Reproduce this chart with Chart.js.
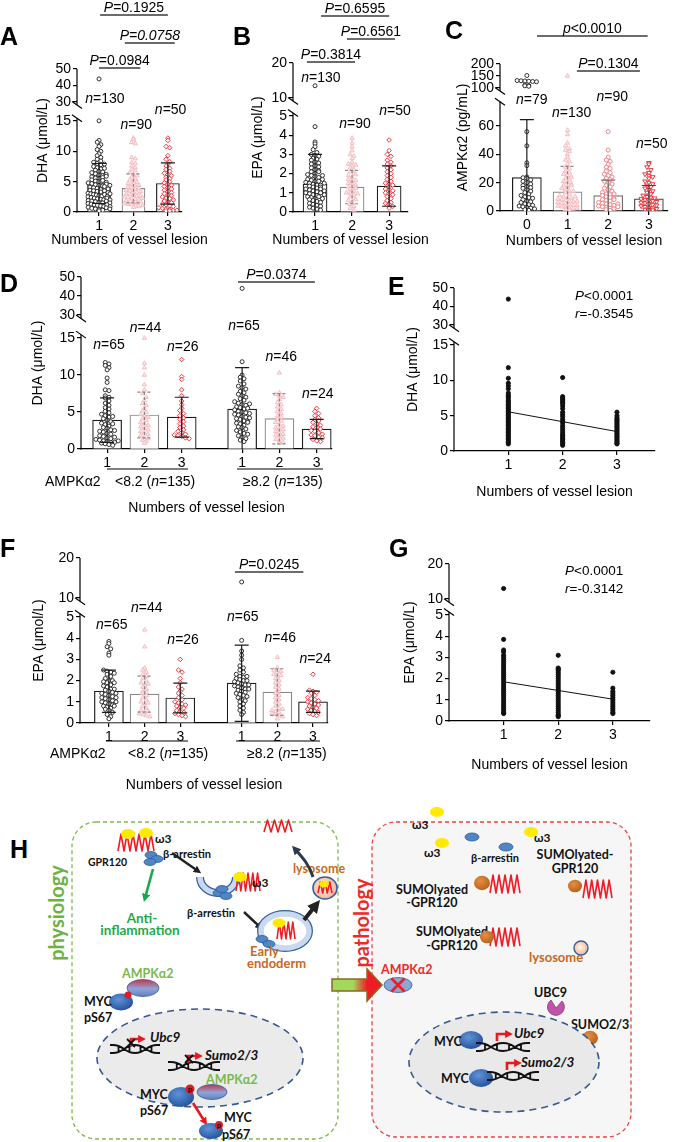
<!DOCTYPE html>
<html>
<head>
<meta charset="utf-8">
<title>DHA, EPA and AMPKα2 by numbers of vessel lesion</title>
<script src="https://cdn.jsdelivr.net/npm/chart.js@4.4.1/dist/chart.umd.min.js"></script>
<style>
  html, body { margin: 0; background: #fff; }
  #page { position: relative; width: 674px; height: 1142px; overflow: hidden; background: #fff; }
  #page canvas, #page svg { position: absolute; }
</style>
</head>
<body>
<div id="page">
  <svg id="diagram" width="674" height="1142" style="left:0;top:0" font-family="Lato, 'Open Sans', sans-serif" font-weight="bold"></svg>
  <canvas id="cA"></canvas>
  <canvas id="cB"></canvas>
  <canvas id="cC"></canvas>
  <canvas id="cD"></canvas>
  <canvas id="cE"></canvas>
  <canvas id="cF"></canvas>
  <canvas id="cG"></canvas>
</div>
<script>
const FONT = '"Liberation Sans", Arial, Helvetica, sans-serif';

// ---------- categories and ticks ----------
const lesionCats = ['1', '2', '3'];
const lesionCatsC = ['0', '1', '2', '3'];
const ampkCats = ['1', '2', '3', '1', '2', '3'];
const yTicksDha = [0, 5, 10, 15, 30, 40, 50];
const yTicksEpa = [0, 1, 2, 3, 4, 5, 10, 20];
const yTicksAmpk = [0, 20, 40, 60, 100, 150, 200];

// ---------- A: DHA by lesion number ----------
const dhaA1 = [44.0, 15.2, 11.8, 11.5, 11.1, 10.8, 10.3, 10.0, 9.6, 9.3, 9.0, 8.7, 8.4, 8.2, 8.0, 7.8, 7.5, 7.3, 7.1, 6.9,
  6.7, 6.5, 6.3, 6.1, 6.0, 5.8, 5.6, 5.5, 5.3, 5.1, 5.0, 4.8, 4.7, 4.5, 4.4, 4.3, 4.1, 4.0, 3.9, 3.7, 3.6, 3.5, 3.4, 3.3,
  3.1, 3.0, 2.9, 2.8, 2.7, 2.6, 2.5, 2.4, 2.3, 2.2, 2.1, 2.0, 1.9, 1.8, 1.7, 1.6, 1.5, 1.4, 1.3, 1.2, 1.1, 1.0, 0.9, 0.8,
  0.6, 0.5, 0.4, 0.3, 0.2, 7.9, 7.2, 6.6, 6.2, 5.7, 5.2, 4.9, 4.6, 4.2, 3.8, 3.5, 3.2, 2.9, 2.6, 2.3, 2.0, 1.8, 1.5, 1.2,
  0.9, 0.7, 0.5, 5.9, 4.4, 3.0];
const dhaA2 = [12.2, 12.0, 11.5, 11.3, 9.0, 8.8, 8.2, 8.0, 7.6, 7.3, 7.0, 6.8, 6.5, 6.2, 6.0, 5.8, 5.5, 5.3, 5.1, 4.9, 4.7,
  4.5, 4.3, 4.1, 4.0, 3.8, 3.6, 3.5, 3.3, 3.2, 3.0, 2.9, 2.8, 2.6, 2.5, 2.4, 2.2, 2.1, 2.0, 1.9, 1.8, 1.6, 1.5, 1.4, 1.3,
  1.2, 1.0, 0.9, 0.8, 4.4, 3.9, 3.4, 2.7, 2.3, 1.7, 1.1];
const dhaA3 = [12.2, 11.8, 10.8, 10.6, 9.3, 8.7, 8.3, 7.9, 7.6, 7.2, 7.0, 6.7, 6.4, 6.2, 6.0, 5.7, 5.5, 5.3, 5.0, 4.8, 4.6,
  4.4, 4.2, 4.0, 3.8, 3.6, 3.4, 3.2, 3.0, 2.8, 2.7, 2.5, 2.3, 2.2, 2.0, 1.8, 1.6, 1.5, 1.3, 1.2, 1.0, 0.9, 0.7, 0.6, 0.5,
  0.4, 0.3, 0.3, 0.2, 0.2];
const dhaMeanA = [4.7, 3.9, 4.7];
const dhaSdA = [3.3, 2.4, 3.4];

// ---------- B: EPA by lesion number ----------
const epaB1 = [13.5, 4.45, 3.65, 3.55, 3.4, 3.25, 3.1, 3.0, 2.95, 2.9, 2.8, 2.75, 2.7, 2.6, 2.55, 2.5, 2.4, 2.35, 2.3, 2.2,
  2.15, 2.1, 2.0, 1.95, 1.9, 1.85, 1.8, 1.7, 1.65, 1.6, 1.55, 1.5, 1.45, 1.4, 1.35, 1.3, 1.25, 1.2, 1.15, 1.1, 1.05, 1.0,
  0.95, 0.9, 0.85, 0.8, 0.75, 0.7, 0.65, 0.6, 0.55, 0.5, 0.45, 0.4, 0.35, 0.3, 0.25, 0.2, 0.15, 0.1,
  1.3, 1.2, 1.1, 1.0, 0.9, 1.4, 1.5, 1.6, 1.7, 0.8, 0.7, 1.9, 2.1];
const epaB2 = [3.85, 3.6, 3.4, 3.2, 3.0, 2.9, 2.8, 2.6, 2.5, 2.4, 2.3, 2.2, 2.1, 2.0, 1.9, 1.8, 1.7, 1.6, 1.5, 1.5, 1.4,
  1.3, 1.3, 1.2, 1.1, 1.0, 1.0, 0.9, 0.8, 0.7, 0.6, 0.5, 0.4, 0.3, 0.2, 0.1, 2.45, 1.95, 1.65, 1.25, 0.95, 0.65];
const epaB3 = [3.75, 3.2, 3.0, 2.9, 2.7, 2.6, 2.5, 2.4, 2.3, 2.2, 2.1, 2.0, 1.9, 1.8, 1.7, 1.6, 1.5, 1.45, 1.4, 1.3, 1.2,
  1.15, 1.1, 1.0, 0.95, 0.9, 0.8, 0.7, 0.6, 0.5, 0.45, 0.4, 0.3, 0.2];
const epaMeanB = [1.45, 1.3, 1.35];
const epaSdB = [1.55, 0.87, 1.05];

// ---------- C: AMPKα2 by lesion number ----------
const ampkC0 = [152, 131, 130, 129, 128, 127, 126, 112, 110, 109, 107, 56, 46, 34, 32, 24, 23.5, 23, 22, 21, 20, 19, 18, 17,
  16.5, 16, 15, 14, 13, 12, 11, 10, 9.5, 9, 8, 7, 6.5, 6, 5, 4.5, 4, 3.5, 3, 2.5, 2, 1.5, 1, 0.5];
const ampkC1 = [150, 57, 54, 48, 46, 44, 43, 42, 40, 38, 36, 35, 33, 31, 30, 28, 27, 26, 25, 24, 23, 22, 21, 20, 19, 18, 17,
  16, 15, 14, 13, 12, 11, 10, 9.5, 9, 8.5, 8, 7.5, 7, 6.5, 6, 5.5, 5, 4.5, 4, 3.5, 3, 2.5, 2, 1.5, 1, 0.5, 18, 14, 10, 7, 4, 2];
const ampkC2 = [56, 43, 38, 36, 35, 33, 31, 30, 28, 27, 26, 25, 24, 23, 22, 21, 20, 19, 18, 17, 16, 15, 14, 13, 12, 11.5,
  11, 10, 9.5, 9, 8, 7.5, 7, 6, 5.5, 5, 4.5, 4, 3.5, 3, 2.5, 2, 1.5, 1, 0.5, 12, 8, 5, 3];
const ampkC3 = [34, 33, 31, 29, 27, 26, 25, 24, 23, 21, 20, 19, 18, 17, 16, 15, 14, 13, 12, 11, 10, 9.5, 9, 8.5, 8, 7.5, 7,
  6.5, 6, 5.5, 5, 4.5, 4, 3.5, 3, 2.5, 2, 1.5, 1, 0.8, 0.5];
const ampkMeanC = [23.5, 13.5, 10.8, 8.5];
const ampkSdC = [41, 18, 11, 9.5];

// ---------- D: DHA by AMPKα2 level and lesion number ----------
const dhaD1 = [11.7, 11.5, 11.3, 11.0, 10.7, 9.6, 9.0, 8.0, 7.9, 7.2, 7.0, 6.9, 6.5, 6.2, 5.9, 5.6, 5.4, 5.1, 4.9, 4.7, 4.5,
  4.3, 4.1, 3.9, 3.7, 3.5, 3.3, 3.1, 2.9, 2.8, 2.6, 2.4, 2.3, 2.1, 2.0, 1.8, 1.7, 1.5, 1.4, 1.3, 1.2, 1.1, 1.0, 0.9, 0.8,
  0.7, 0.6, 0.5, 0.9, 1.1, 1.6, 2.5, 3.4, 4.4];
const dhaD2 = [15.0, 11.6, 11.0, 10.0, 8.7, 8.0, 7.5, 7.0, 6.6, 6.2, 5.9, 5.5, 5.2, 5.0, 4.7, 4.5, 4.3, 4.1, 3.9, 3.6, 3.4,
  3.2, 3.0, 2.8, 2.6, 2.4, 2.2, 2.0, 1.8, 1.6, 1.4, 1.2, 1.0, 0.8];
const dhaD3 = [12.1, 9.8, 9.4, 8.0, 7.2, 6.5, 6.0, 5.5, 5.2, 4.8, 4.5, 4.2, 4.0, 3.7, 3.4, 3.1, 2.9, 2.6, 2.4, 2.2, 2.0, 1.9,
  1.8, 1.7, 1.5, 1.4];
const dhaD4 = [44.0, 11.8, 10.0, 9.7, 9.5, 9.2, 8.8, 8.5, 8.3, 8.1, 7.8, 7.6, 7.4, 7.2, 7.0, 6.8, 6.6, 6.4, 6.2, 6.0, 5.9,
  5.7, 5.6, 5.4, 5.3, 5.1, 5.0, 4.9, 4.7, 4.6, 4.4, 4.3, 4.1, 4.0, 3.8, 3.7, 3.5, 3.4, 3.2, 3.0, 2.9, 2.7, 2.5, 2.3, 2.1,
  2.0, 1.8, 1.6, 1.4, 1.2, 1.0, 5.5, 4.8, 4.2, 3.6, 6.1];
const dhaD5 = [10.3, 7.6, 7.4, 7.2, 7.0, 6.7, 6.3, 6.0, 5.7, 5.4, 5.1, 4.8, 4.5, 4.3, 4.0, 3.8, 3.6, 3.3, 3.1, 2.9, 2.7, 2.6,
  2.4, 2.2, 2.0, 1.9, 1.7, 1.5, 1.3, 1.1, 0.9, 0.8];
const dhaD6 = [5.5, 5.1, 4.8, 4.5, 4.2, 4.0, 3.8, 3.6, 3.4, 3.2, 3.0, 2.9, 2.7, 2.5, 2.4, 2.2, 2.0, 1.9, 1.8, 1.6, 1.5, 1.3,
  1.1, 1.0];
const dhaMeanD = [3.9, 4.6, 4.3, 5.4, 4.1, 2.7];
const dhaSdD = [3.0, 3.1, 2.7, 5.6, 3.4, 1.3];

// ---------- E: DHA correlation ----------
const dhaE1 = [44, 11.8, 10.3, 9.6, 9.2, 8.8, 8.2, 7.9, 7.7, 7.5, 7.2, 7.0, 6.8, 6.6, 6.4, 6.2, 6.0, 5.8, 5.6, 5.4, 5.2, 5.0,
  4.8, 4.6, 4.4, 4.2, 4.0, 3.8, 3.6, 3.4, 3.2, 3.0, 2.8, 2.6, 2.4, 2.2, 2.0, 1.8, 1.6, 1.4, 1.2, 1.0];
const dhaE2 = [10.4, 7.7, 7.5, 7.3, 7.1, 6.9, 6.7, 6.4, 6.0, 5.5, 5.2, 4.9, 4.5, 4.2, 4.0, 3.6, 3.3, 3.0, 2.7, 2.4, 2.2, 2.0,
  1.8, 1.6, 1.4, 1.2, 1.0, 0.8];
const dhaE3 = [5.5, 5.0, 4.7, 4.5, 4.3, 4.1, 3.9, 3.7, 3.5, 3.3, 3.1, 2.9, 2.7, 2.5, 2.3, 2.1, 1.9, 1.7, 1.5, 1.3, 1.1, 1.0];
const fitX = [1, 3];
const fitE = [5.55, 2.75];

// ---------- F: EPA by AMPKα2 level and lesion number ----------
const epaF1 = [3.85, 3.75, 3.6, 3.5, 3.3, 3.2, 2.5, 2.45, 2.4, 2.35, 2.3, 2.2, 2.1, 2.0, 1.95, 1.9, 1.8, 1.75, 1.7, 1.6,
  1.55, 1.5, 1.45, 1.4, 1.35, 1.3, 1.25, 1.2, 1.15, 1.1, 1.05, 1.0, 0.95, 0.9, 0.85, 0.8, 0.75, 0.7, 0.65, 0.6, 0.5, 0.4,
  0.3, 0.2, 1.6, 1.4, 1.2, 1.0, 0.8, 1.9, 2.0];
const epaF2 = [4.4, 3.6, 2.6, 2.5, 2.3, 2.2, 2.1, 2.0, 1.9, 1.8, 1.7, 1.6, 1.5, 1.4, 1.3, 1.2, 1.1, 1.0, 0.9, 0.8, 0.7, 0.6,
  0.5, 0.45, 0.4, 0.35, 0.3, 2.4, 1.85, 1.45, 0.95, 0.55];
const epaF3 = [3.0, 2.5, 2.4, 2.1, 1.9, 1.7, 1.6, 1.5, 1.4, 1.3, 1.2, 1.1, 1.0, 0.95, 0.9, 0.85, 0.8, 0.75, 0.7, 0.6, 0.55,
  0.5, 0.45, 0.4, 0.35, 0.3];
const epaF4 = [14.0, 3.9, 3.4, 3.2, 3.0, 2.7, 2.6, 2.5, 2.4, 2.3, 2.2, 2.15, 2.1, 2.05, 2.0, 1.95, 1.9, 1.85, 1.8, 1.75, 1.7,
  1.65, 1.6, 1.55, 1.5, 1.45, 1.4, 1.35, 1.3, 1.2, 1.1, 1.0, 0.9, 0.8, 0.7, 0.6, 0.5, 0.4, 2.2, 2.0, 1.8, 1.6, 1.25, 1.05];
const epaF5 = [3.1, 2.6, 2.5, 2.4, 2.3, 2.2, 2.1, 2.0, 1.9, 1.8, 1.7, 1.6, 1.5, 1.4, 1.3, 1.2, 1.1, 1.0, 0.9, 0.8, 0.7, 0.6,
  0.55, 0.5, 0.45, 0.4, 0.35, 0.3, 0.2, 2.45, 2.25, 0.65];
const epaF6 = [2.3, 1.55, 1.5, 1.45, 1.4, 1.3, 1.2, 1.15, 1.1, 1.05, 1.0, 0.95, 0.9, 0.85, 0.8, 0.75, 0.7, 0.65, 0.6, 0.55,
  0.5, 0.45, 0.4, 0.35];
const epaMeanF = [1.5, 1.36, 1.18, 1.88, 1.46, 1.0];
const epaSdF = [1.0, 0.85, 0.7, 1.8, 1.1, 0.5];

// ---------- G: EPA correlation ----------
const epaG1 = [13.0, 3.85, 3.35, 3.25, 3.1, 3.0, 2.9, 2.8, 2.7, 2.6, 2.5, 2.4, 2.3, 2.2, 2.1, 2.0, 1.9, 1.8, 1.7, 1.6, 1.5,
  1.4, 1.3, 1.2, 1.1, 1.0, 0.9, 0.8, 0.7, 0.6, 0.5, 0.4, 0.35];
const epaG2 = [3.1, 2.5, 2.45, 2.4, 2.3, 2.2, 2.1, 2.0, 1.9, 1.8, 1.7, 1.6, 1.5, 1.4, 1.3, 1.2, 1.1, 1.0, 0.9, 0.8, 0.7, 0.6,
  0.5, 0.4, 0.3, 0.25, 0.2];
const epaG3 = [2.3, 1.55, 1.4, 1.3, 1.2, 1.1, 1.0, 0.9, 0.8, 0.7, 0.6, 0.5, 0.4, 0.35];
const fitG = [1.85, 1.03];

// ---------- marker styles ----------
const MARK = {
  k: { style: 'circle', r: 2.0, rot: 0, line: '#1e1e1e', fill: '#ffffff', bar: '#1b1b1b', dash: false },
  p: { style: 'triangle', r: 2.5, rot: 0, line: '#f3b9be', fill: '#fde8ea', bar: '#8a8a8a', dash: true },
  r: { style: 'rectRot', r: 2.3, rot: 0, line: '#e8262d', fill: '#ffffff', bar: '#1b1b1b', dash: false },
  s: { style: 'circle', r: 2.0, rot: 0, line: '#ef7b80', fill: '#ffffff', bar: '#6e6e6e', dash: false },
  v: { style: 'triangle', r: 2.6, rot: 180, line: '#e8262d', fill: '#ffffff', bar: '#444444', dash: false },
  dot: { style: 'circle', r: 2.1, rot: 0, line: '#111111', fill: '#111111' }
};

Chart.defaults.font.family = FONT;
Chart.defaults.font.size = 14;
Chart.defaults.color = '#000';

// piecewise (broken) axis: each segment is [fromValue, toValue, fromDecimal, toDecimal]
const SEGS = {};
function segFrac(segs, v) {
  for (let i = 0; i < segs.length; i++) {
    const [a, b, lo, hi] = segs[i];
    if (v < a && i > 0) {
      const p = segs[i - 1];
      return p[3] + (lo - p[3]) * (v - p[1]) / (a - p[1]);
    }
    if (v <= b || i === segs.length - 1) return lo + (hi - lo) * (v - a) / (b - a);
  }
  return 0;
}

class BrokenScale extends Chart.LinearScale {
  static id = 'broken';
  getPixelForValue(v) {
    return this.getPixelForDecimal(segFrac(SEGS[this.chart.canvas.id], v));
  }
  getValueForPixel(px) {
    const d = this.getDecimalForPixel(px);
    const segs = SEGS[this.chart.canvas.id];
    for (const s of segs) if (d <= s[3]) return s[0] + (s[1] - s[0]) * (d - s[2]) / (s[3] - s[2]);
    return segs[segs.length - 1][1];
  }
}
Chart.register(BrokenScale);

// beeswarm layout: points that share a vertical bin are spread sideways
function swarm(values, cx, segs, step, half) {
  const bins = new Map();
  values.forEach(v => {
    const k = Math.round(segFrac(segs, v) / 0.024);
    if (!bins.has(k)) bins.set(k, []);
    bins.get(k).push(v);
  });
  const pts = [];
  bins.forEach(list => {
    const m = list.length;
    const d = m > 1 ? Math.min(step, 2 * half / (m - 1)) : 0;
    list.forEach((v, j) => pts.push({ x: cx + (j - (m - 1) / 2) * d, y: v }));
  });
  return pts;
}

// text with *italic* parts
function richText(ctx, str, x, y, align, size, baseline = 'alphabetic') {
  const parts = str.split('*');
  const fonts = parts.map((p, i) => (i % 2 ? 'italic ' : '') + size + 'px ' + FONT);
  let w = 0;
  parts.forEach((p, i) => { ctx.font = fonts[i]; w += ctx.measureText(p).width; });
  let cx = align === 'center' ? x - w / 2 : align === 'right' ? x - w : x;
  ctx.textAlign = 'left';
  ctx.textBaseline = baseline;
  ctx.fillStyle = '#000';
  parts.forEach((p, i) => { ctx.font = fonts[i]; ctx.fillText(p, cx, y); cx += ctx.measureText(p).width; });
}

function panelPlugin(p) {
  const X = v => v - p.left, Y = v => v - p.top;
  return {
    id: 'notes_' + p.id,
    afterDatasetsDraw(chart) {
      if (!p.means) return;
      const ctx = chart.ctx, ys = chart.scales.y, xs = chart.scales.x;
      p.means.forEach((m, i) => {
        const st = MARK[p.styles[i]];
        const cx = xs.getPixelForValue(p.xs[i]);
        const low = m - p.sds[i];
        const top = ys.getPixelForValue(m + p.sds[i]);
        const bot = ys.getPixelForValue(Math.max(low, 0));
        ctx.save();
        ctx.strokeStyle = st.bar;
        ctx.lineWidth = 1.2;
        ctx.setLineDash(st.dash ? [3, 2] : []);
        ctx.beginPath();
        ctx.moveTo(cx, top); ctx.lineTo(cx, bot);
        ctx.moveTo(cx - 7, top); ctx.lineTo(cx + 7, top);
        if (low > 0) { ctx.moveTo(cx - 7, bot); ctx.lineTo(cx + 7, bot); }
        ctx.stroke();
        ctx.restore();
      });
    },
    afterDraw(chart) {
      const ctx = chart.ctx, ys = chart.scales.y, xs = chart.scales.x;
      const area = chart.chartArea, x0 = area.left;
      ctx.save();
      // broken y axis line with slashes
      ctx.strokeStyle = '#000';
      ctx.lineWidth = 1.2;
      p.segs.forEach((s, i) => {
        const lo = i === 0 ? 0 : s[2] - 0.02;
        const hi = i === p.segs.length - 1 ? 1 : s[3] + 0.02;
        const y0 = ys.getPixelForDecimal(lo), y1 = ys.getPixelForDecimal(hi);
        ctx.beginPath(); ctx.moveTo(x0, y0 + (i === 0 ? 0.6 : 0)); ctx.lineTo(x0, y1); ctx.stroke();
        const slash = y => { ctx.beginPath(); ctx.moveTo(x0 - 5, y - 3.5); ctx.lineTo(x0 + 5, y + 3.5); ctx.stroke(); };
        if (i > 0) slash(y0);
        if (i < p.segs.length - 1) slash(y1);
      });
      // x title drawn here when the plot is narrower than the text
      if (p.xTitleY) richText(ctx, 'Numbers of vessel lesion', (area.left + area.right) / 2, Y(p.xTitleY), 'center', 14, 'middle');
      // panel letter
      ctx.fillStyle = '#000';
      ctx.font = 'bold 25px ' + FONT;
      ctx.textAlign = 'left';
      ctx.textBaseline = 'alphabetic';
      ctx.fillText(p.letter[0], X(p.letter[1]), Y(p.letter[2]));
      // significance brackets
      (p.brackets || []).forEach(([t, a, b, y]) => {
        const xa = xs.getPixelForValue(a), xb = xs.getPixelForValue(b);
        ctx.strokeStyle = '#3a3a3a';
        ctx.lineWidth = 1.3;
        ctx.beginPath(); ctx.moveTo(xa, Y(y)); ctx.lineTo(xb, Y(y)); ctx.stroke();
        richText(ctx, t, (xa + xb) / 2, Y(y) - 3, 'center', 14);
      });
      (p.nLabels || []).forEach(([t, x, y]) => richText(ctx, t, xs.getPixelForValue(x), Y(y), 'center', 14));
      (p.stats || []).forEach(([t, x, y]) => richText(ctx, t, X(x), Y(y), 'left', 13.5));
      (p.groupLines || []).forEach(([a, b, y]) => {
        ctx.strokeStyle = '#000';
        ctx.lineWidth = 1.2;
        ctx.beginPath(); ctx.moveTo(X(a), Y(y)); ctx.lineTo(X(b), Y(y)); ctx.stroke();
      });
      (p.groupTexts || []).forEach(([t, x, y]) => richText(ctx, t, X(x), Y(y), 'left', 14));
      ctx.restore();
    }
  };
}

function makePanel(p) {
  const canvas = document.getElementById(p.id);
  canvas.width = p.width;
  canvas.height = p.height;
  canvas.style.left = p.left + 'px';
  canvas.style.top = p.top + 'px';
  canvas.style.width = p.width + 'px';
  canvas.style.height = p.height + 'px';
  SEGS[p.id] = p.segs;

  const datasets = [];
  p.groups.forEach((vals, i) => {
    const m = MARK[p.styles[i]];
    datasets.push({
      type: 'scatter',
      data: swarm(vals, p.xs[i], p.segs, p.step, p.half),
      pointStyle: m.style, pointRadius: m.r, pointRotation: m.rot,
      pointBorderColor: m.line, pointBackgroundColor: m.fill, pointBorderWidth: 0.9,
      order: 1
    });
  });
  if (p.means) {
    datasets.push({
      type: 'bar',
      data: p.means.map((v, i) => ({ x: p.xs[i], y: v })),
      backgroundColor: '#ffffff',
      borderColor: p.styles.map(s => MARK[s].bar),
      borderWidth: 1.2,
      barThickness: p.barW,
      order: 2
    });
  }
  if (p.fit) {
    datasets.push({
      type: 'line',
      data: fitX.map((x, i) => ({ x: x, y: p.fit[i] })),
      borderColor: '#111', borderWidth: 1, pointRadius: 0,
      order: 0
    });
  }

  return new Chart(canvas, {
    type: 'scatter',
    data: { datasets: datasets },
    options: {
      responsive: false,
      animation: false,
      events: [],
      layout: { padding: p.pad },
      plugins: { legend: { display: false }, tooltip: { enabled: false } },
      scales: {
        x: {
          type: 'linear', min: p.xMin, max: p.xMax, offset: false,
          afterBuildTicks: s => { s.ticks = p.xs.map(v => ({ value: v })); },
          afterFit: s => { s.height = p.xH; },
          ticks: { callback: (v, i) => p.cats[i], autoSkip: false, maxRotation: 0, padding: 2 },
          grid: { display: true, offset: false, drawOnChartArea: false, drawTicks: true, tickLength: 4, color: '#000', lineWidth: 1.2 },
          border: { display: true, color: '#000', width: 1.2 },
          title: { display: !p.xTitleY, text: 'Numbers of vessel lesion', padding: 0, font: { size: 14 } }
        },
        y: {
          type: 'broken', min: 0, max: p.yTicks[p.yTicks.length - 1],
          afterBuildTicks: s => { s.ticks = p.yTicks.map(v => ({ value: v })); },
          afterFit: s => { s.width = p.yW; },
          ticks: { autoSkip: false, padding: 2 },
          grid: { display: true, drawOnChartArea: false, drawTicks: true, tickLength: 4, color: '#000', lineWidth: 1.2 },
          border: { display: false },
          title: { display: true, text: p.yTitle, padding: 0, font: { size: 14 } }
        }
      }
    },
    plugins: [panelPlugin(p)]
  });
}

const segDha = [[0, 15, 0, 0.636], [30, 50, 0.769, 1]];

makePanel({
  id: 'cA', left: 0, top: 0, width: 216, height: 252,
  pad: { left: 34.6, right: 34, top: 69, bottom: 3.6 }, yW: 42.4, xH: 36.4, xTitleY: 240,
  segs: segDha, yTicks: yTicksDha, yTitle: 'DHA (μmol/L)',
  xMin: 0.36, xMax: 3.41, cats: lesionCats, xs: [1, 2, 3],
  groups: [dhaA1, dhaA2, dhaA3], means: dhaMeanA, sds: dhaSdA, styles: ['k', 'p', 'r'],
  barW: 23, step: 0.105, half: 0.32,
  letter: ['A', 0, 45],
  brackets: [['*P*=0.1925', 1.03, 3.0, 15], ['*P=0.0758*', 1.75, 3.2, 43], ['*P*=0.0984', 1.0, 2.2, 68]],
  nLabels: [['*n*=130', 1.17, 103], ['*n*=90', 2.08, 129], ['*n*=50', 3.08, 114]]
});

makePanel({
  id: 'cB', left: 228, top: 0, width: 214, height: 252,
  pad: { left: 21.6, right: 34, top: 63, bottom: 3.6 }, yW: 43.4, xH: 36.4, xTitleY: 240,
  segs: [[0, 5, 0, 0.644], [10, 20, 0.765, 1]], yTicks: yTicksEpa, yTitle: 'EPA (μmol/L)',
  xMin: 0.405, xMax: 3.51, cats: lesionCats, xs: [1, 2, 3],
  groups: [epaB1, epaB2, epaB3], means: epaMeanB, sds: epaSdB, styles: ['k', 'p', 'r'],
  barW: 24, step: 0.1, half: 0.32,
  letter: ['B', 233, 45],
  brackets: [['*P*=0.6595', 1.16, 3.0, 16], ['*P*=0.6561', 1.86, 3.16, 39], ['*P*=0.3814', 0.78, 2.08, 62]],
  nLabels: [['*n*=130', 1.16, 82], ['*n*=90', 2.08, 128], ['*n*=50', 3.16, 115]]
});

makePanel({
  id: 'cC', left: 418, top: 0, width: 256, height: 252,
  pad: { left: 36.6, right: 6, top: 64, bottom: 2.6 }, yW: 45.4, xH: 38.4,
  segs: [[0, 75, 0, 0.723], [100, 200, 0.837, 1]], yTicks: yTicksAmpk, yTitle: 'AMPKα2 (pg/mL)',
  xMin: -0.66, xMax: 3.47, cats: lesionCatsC, xs: [0, 1, 2, 3],
  groups: [ampkC0, ampkC1, ampkC2, ampkC3], means: ampkMeanC, sds: ampkSdC, styles: ['k', 'p', 's', 'v'],
  barW: 29, step: 0.095, half: 0.36,
  letter: ['C', 445, 39],
  brackets: [['*p*<0.0010', 0.25, 2.97, 36], ['*P*=0.1304', 1.23, 2.78, 71]],
  nLabels: [['*n*=79', 0.12, 104], ['*n*=130', 1.1, 117], ['*n*=90', 2.1, 101], ['*n*=50', 3.07, 148]]
});

makePanel({
  id: 'cD', left: 0, top: 260, width: 340, height: 262,
  pad: { left: 29.6, right: 8, top: 17, bottom: 5.6 }, yW: 51.4, xH: 67.4,
  segs: [[0, 15, 0, 0.645], [30, 50, 0.779, 1]], yTicks: yTicksDha, yTitle: 'DHA (μmol/L)',
  xMin: 0.3, xMax: 7.03, cats: ampkCats, xs: ampkCats.map((c, i) => i < 3 ? i + 1 : i + 1.62),
  groups: [dhaD1, dhaD2, dhaD3, dhaD4, dhaD5, dhaD6], means: dhaMeanD, sds: dhaSdD,
  styles: ['k', 'p', 'r', 'k', 'p', 'r'], barW: 29, step: 0.1, half: 0.38,
  letter: ['D', 0, 292],
  brackets: [['*P*=0.0374', 4.51, 6.57, 282]],
  nLabels: [['*n*=65', 1.05, 349], ['*n*=44', 2.03, 332], ['*n*=26', 3.03, 351],
            ['*n*=65', 4.67, 330], ['*n*=46', 5.67, 361], ['*n*=24', 6.65, 398]],
  groupLines: [[107, 188, 469], [237, 323, 469]],
  groupTexts: [['AMPKα2', 45, 486], ['<8.2 (*n*=135)', 115, 486], ['≥8.2 (*n*=135)', 243, 486]]
});

makePanel({
  id: 'cE', left: 340, top: 260, width: 334, height: 262,
  pad: { left: 64.6, right: 19, top: 28, bottom: 21.6 }, yW: 49.4, xH: 49.4,
  segs: [[0, 15, 0, 0.650], [30, 50, 0.773, 1]], yTicks: yTicksDha, yTitle: 'DHA (μmol/L)',
  xMin: 0, xMax: 3.7, cats: lesionCats, xs: [1, 2, 3],
  groups: [dhaE1, dhaE2, dhaE3], styles: ['dot', 'dot', 'dot'], step: 0, half: 0,
  fit: fitE,
  letter: ['E', 388, 295],
  stats: [['*P*<0.0001', 575, 300], ['*r*=-0.3545', 575, 318]]
});

makePanel({
  id: 'cF', left: 0, top: 528, width: 340, height: 272,
  pad: { left: 30.6, right: 12, top: 30, bottom: 6.6 }, yW: 49.4, xH: 70.4,
  segs: [[0, 5, 0, 0.642], [10, 20, 0.758, 1]], yTicks: yTicksEpa, yTitle: 'EPA (μmol/L)',
  xMin: 0.19, xMax: 7.14, cats: ampkCats, xs: ampkCats.map((c, i) => i < 3 ? i + 1 : i + 1.72),
  groups: [epaF1, epaF2, epaF3, epaF4, epaF5, epaF6], means: epaMeanF, sds: epaSdF,
  styles: ['k', 'p', 'r', 'k', 'p', 'r'], barW: 29, step: 0.1, half: 0.4,
  letter: ['F', 0, 557],
  brackets: [['*P*=0.0245', 4.53, 6.45, 572]],
  nLabels: [['*n*=65', 1.08, 629], ['*n*=44', 2.06, 612], ['*n*=26', 3.08, 644],
            ['*n*=65', 4.75, 621], ['*n*=46', 5.8, 642], ['*n*=24', 6.78, 663]],
  groupLines: [[106, 188, 741], [236, 320, 741]],
  groupTexts: [['AMPKα2', 50, 758], ['<8.2 (*n*=135)', 128, 758], ['≥8.2 (*n*=135)', 247, 758]]
});

makePanel({
  id: 'cG', left: 340, top: 528, width: 334, height: 272,
  pad: { left: 61.6, right: 24, top: 36, bottom: 26.6 }, yW: 47.4, xH: 52.4,
  segs: [[0, 5, 0, 0.675], [10, 20, 0.777, 1]], yTicks: yTicksEpa, yTitle: 'EPA (μmol/L)',
  xMin: 0, xMax: 3.68, cats: lesionCats, xs: [1, 2, 3],
  groups: [epaG1, epaG2, epaG3], styles: ['dot', 'dot', 'dot'], step: 0, half: 0,
  fit: fitG,
  letter: ['G', 389, 557],
  stats: [['*P*<0.0001', 565, 575], ['*r*=-0.3142', 565, 593]]
});

// ---------- H: schematic ----------
const H = [];
const ORANGE = '#c8691f';
function wave(x, y, w, h, n) {
  const pts = [];
  for (let i = 0; i <= 2 * n; i++) pts.push((x + i * w / (2 * n)).toFixed(1) + ',' + (i % 2 ? y : y + h));
  H.push(`<polyline points="${pts.join(' ')}" fill="none" stroke="#ee1c24" stroke-width="1.6" stroke-linejoin="round"/>`);
}
function ell(cx, cy, rx, ry, fill, stroke = 'none', sw = 0.8) {
  H.push(`<ellipse cx="${cx}" cy="${cy}" rx="${rx}" ry="${ry}" fill="${fill}" stroke="${stroke}" stroke-width="${sw}"/>`);
}
function txt(x, y, s, size, fill = '#111', anchor = 'start', italic = false) {
  H.push(`<text x="${x}" y="${y}" font-size="${size}" fill="${fill}" text-anchor="${anchor}"${italic ? ' font-style="italic"' : ''}>${s}</text>`);
}
function arrow(x1, y1, x2, y2, color, w, mk) {
  H.push(`<line x1="${x1}" y1="${y1}" x2="${x2}" y2="${y2}" stroke="${color}" stroke-width="${w}" marker-end="url(#${mk})"/>`);
}
function dna(x, y, w) {
  const q = w / 4;
  H.push(`<path d="M${x},${y - 4} C${x + q},${y - 4} ${x + q},${y + 4} ${x + 2 * q},${y + 4} C${x + 3 * q},${y + 4} ${x + 3 * q},${y - 4} ${x + w},${y - 4}
    M${x},${y + 4} C${x + q},${y + 4} ${x + q},${y - 4} ${x + 2 * q},${y - 4} C${x + 3 * q},${y - 4} ${x + 3 * q},${y + 4} ${x + w},${y + 4}
    M${x + 0.5 * q},${y - 3} v6 M${x + 1.5 * q},${y - 3} v6 M${x + 2.5 * q},${y - 3} v6 M${x + 3.5 * q},${y - 3} v6
    M${x - 3},${y - 4} h3 M${x - 3},${y + 4} h3 M${x + w},${y - 4} h3 M${x + w},${y + 4} h3"
    fill="none" stroke="#111" stroke-width="1.8"/>`);
}
function bent(x, y, len) {
  H.push(`<path d="M${x},${y + 7} L${x},${y} L${x + len},${y}" fill="none" stroke="#e8191f" stroke-width="2.6" marker-end="url(#mr)"/>`);
}
function cross(cx, cy, s, color, w) {
  H.push(`<path d="M${cx - s},${cy - s} L${cx + s},${cy + s} M${cx + s},${cy - s} L${cx - s},${cy + s}" stroke="${color}" stroke-width="${w}"/>`);
}
const blob = (cx, cy, rx, ry) => ell(cx, cy, rx, ry, 'url(#gBlue)');
const small = (cx, cy) => ell(cx, cy, 6, 3.5, '#4f86c6', '#2c5b9b');
const yellow = (cx, cy) => ell(cx, cy, 7, 5, '#ffea00');
const orange = (cx, cy, r) => ell(cx, cy, r, r * 0.9, 'url(#gOr)');

H.push(`<defs>
  <radialGradient id="gBlue" cx="0.4" cy="0.35" r="0.75"><stop offset="0" stop-color="#5f93d8"/><stop offset="1" stop-color="#1f4b94"/></radialGradient>
  <radialGradient id="gOr" cx="0.4" cy="0.35" r="0.75"><stop offset="0" stop-color="#e39045"/><stop offset="1" stop-color="#b55a15"/></radialGradient>
  <radialGradient id="gLys" cx="0.45" cy="0.45" r="0.6"><stop offset="0" stop-color="#fff6ee"/><stop offset="1" stop-color="#f2b089"/></radialGradient>
  <linearGradient id="gAmpk" x1="0" y1="0" x2="0" y2="1"><stop offset="0" stop-color="#c8344a"/><stop offset="0.55" stop-color="#8ea6d8"/><stop offset="1" stop-color="#5d7fc0"/></linearGradient>
  <linearGradient id="gArrow" x1="0" y1="0" x2="1" y2="0"><stop offset="0" stop-color="#a3d85c"/><stop offset="0.42" stop-color="#a3d85c"/><stop offset="0.7" stop-color="#ee1c24"/><stop offset="1" stop-color="#ee1c24"/></linearGradient>
  <marker id="mk" viewBox="0 0 10 10" refX="5" refY="5" markerWidth="3.2" markerHeight="3.2" orient="auto"><path d="M0,0 L10,5 L0,10 z" fill="#222"/></marker>
  <marker id="mg" viewBox="0 0 10 10" refX="5" refY="5" markerWidth="3.2" markerHeight="3.2" orient="auto"><path d="M0,0 L10,5 L0,10 z" fill="#1aa64a"/></marker>
  <marker id="mr" viewBox="0 0 10 10" refX="5" refY="5" markerWidth="3" markerHeight="3" orient="auto"><path d="M0,0 L10,5 L0,10 z" fill="#e8191f"/></marker>
  <marker id="mn" viewBox="0 0 10 10" refX="5" refY="5" markerWidth="3" markerHeight="3" orient="auto"><path d="M0,0 L10,5 L0,10 z" fill="#2b3a4e"/></marker>
</defs>`);

// cells
H.push(`<rect x="72" y="822" width="266" height="317" rx="24" fill="none" stroke="#7dba4a" stroke-width="1.3" stroke-dasharray="4 3"/>`);
H.push(`<rect x="372" y="822" width="259" height="315" rx="24" fill="#f6f6f6" stroke="#f0403f" stroke-width="1.3" stroke-dasharray="4 3"/>`);
H.push(`<text x="10" y="858" font-family="${FONT.replace(/"/g, "'")}" font-size="25" fill="#000">H</text>`);
H.push(`<text transform="translate(64,913) rotate(-90)" text-anchor="middle" font-size="20" fill="#6cb33f">physiology</text>`);
H.push(`<text transform="translate(369,923) rotate(-90)" text-anchor="middle" font-size="20" fill="#ee2a24">pathology</text>`);

// physiology
wave(118, 834, 36, 17, 6); yellow(128, 834); yellow(146, 833);
txt(155, 843, 'ω3', 12);
txt(88, 866, 'GPR120', 10.5);
small(151, 855); small(157, 859); small(150, 862);
txt(163, 858, 'β-arrestin', 11);
arrow(153, 869, 145, 898, '#1aa64a', 2.6, 'mg');
txt(142, 923, 'Anti-', 13.5, '#1fa94b', 'middle');
txt(140, 935, 'inflammation', 13.5, '#1fa94b', 'middle');
arrow(172, 853, 198, 871, '#222', 2.4, 'mk');
H.push(`<path d="M200,877 A18,16 0 0 0 236,877" fill="none" stroke="#35609f" stroke-width="8"/>`);
H.push(`<path d="M200,877 A18,16 0 0 0 236,877" fill="none" stroke="#c9d9f0" stroke-width="5.5"/>`);
small(219, 893); small(226, 896); small(222, 889);
wave(236, 873, 24, 18, 5); yellow(240, 877);
txt(252, 887, 'ω3', 12);
txt(187, 917, 'β-arrestin', 11);
arrow(244, 912, 260, 927, '#222', 2.4, 'mk');
ell(285, 931, 24, 17, 'none', '#35609f', 8);
ell(285, 931, 24, 17, '#ffffff', '#c9d9f0', 5.5);
wave(277, 922, 18, 17, 4); ell(279, 923, 6.5, 4.5, '#ffea00');
small(262, 939); small(269, 944);
txt(250, 956, 'Early', 13, ORANGE);
txt(247, 968, 'endoderm', 13, ORANGE);
arrow(304, 920, 316, 905, '#222', 4, 'mk');
ell(325, 888, 12, 11, 'url(#gLys)', '#35609f', 1.6);
wave(318, 882, 14, 11, 3); ell(324, 884, 5, 3.5, '#ffea00');
txt(293, 873, 'lysosome', 12.5, ORANGE);
H.push(`<path d="M313,877 C310,866 303,858 295,849" fill="none" stroke="#2b3a4e" stroke-width="3" marker-end="url(#mn)"/>`);
wave(264, 820, 28, 12, 4);
txt(122, 978, 'AMPKα2', 12.5, '#7cb84e');
ell(143, 988, 16, 8.5, 'url(#gAmpk)', '#3b5c9c');
blob(121, 1002, 12, 8.5); ell(128, 995, 3.5, 3.5, '#e21b23');
txt(84, 1006, 'MYC', 12.5);
txt(84, 1022, 'pS67', 12.5);
H.push(`<ellipse cx="200" cy="1058" rx="103" ry="49" fill="#ebebeb" stroke="#37598f" stroke-width="1.6" stroke-dasharray="7 5"/>`);
dna(113, 1049, 44); dna(171, 1066, 46);
bent(131, 1039, 11); cross(131, 1043, 4, '#111', 1.8);
txt(150, 1042, 'Ubc9', 13.5, '#111', 'start', true);
bent(188, 1056, 11); cross(189, 1059, 4, '#111', 1.8);
txt(205, 1060, 'Sumo2/3', 13.5, '#111', 'start', true);
txt(140, 1099, 'MYC', 12.5);
txt(140, 1115, 'pS67', 12.5);
ell(212, 1092, 15, 7.5, 'url(#gAmpk)', '#3b5c9c');
blob(181, 1097, 13, 10); ell(190, 1089, 4.5, 4.5, '#e21b23');
txt(190, 1092, 'p', 8, '#111', 'middle');
txt(206, 1084, 'AMPKα2', 12.5, '#7cb84e');
arrow(193, 1103, 205, 1122, '#e8191f', 2.6, 'mr');
blob(211, 1131, 12, 8); ell(219, 1125, 4, 4, '#e21b23');
txt(219, 1128, 'p', 7.5, '#111', 'middle');
txt(224, 1122, 'MYC', 12.5);
txt(222, 1139, 'pS67', 12.5);

// pathology
yellow(437, 812);
txt(412, 829, 'ω3', 12);
yellow(442, 843); txt(424, 857, 'ω3', 12);
ell(472, 837, 7, 4, '#4f86c6', '#2c5b9b'); ell(506, 847, 7, 4, '#4f86c6', '#2c5b9b');
txt(471, 862, 'β-arrestin', 11);
yellow(531, 832); txt(534, 842, 'ω3', 12);
txt(575, 859, 'SUMOlyated-', 12.5, '#111', 'middle');
txt(575, 873, 'GPR120', 12.5, '#111', 'middle');
txt(432, 894, 'SUMOlyated', 12.5, '#111', 'middle');
txt(432, 907, '-GPR120', 12.5, '#111', 'middle');
orange(482, 883, 8); wave(490, 875, 30, 18, 5);
orange(575, 886, 7); wave(583, 880, 29, 18, 5);
txt(452, 936, 'SUMOlyated', 12.5, '#111', 'middle');
txt(452, 950, '-GPR120', 12.5, '#111', 'middle');
wave(490, 928, 30, 18, 5); orange(487, 937, 7);
ell(581, 948, 7, 7, 'url(#gLys)', '#35609f', 1.4);
txt(529, 962, 'lysosome', 13, ORANGE);
H.push(`<path d="M332,979 L367,979 L367,969 L382,985 L367,1001 L367,991 L332,991 Z" fill="url(#gArrow)" stroke="#8a6a1e" stroke-width="1.5"/>`);
txt(381, 974, 'AMPKα2', 12.5, '#ee2a24');
ell(398, 985, 14, 7.5, '#8ea6d4', '#3b5c9c');
cross(398, 985, 6.5, '#ee1c24', 2.6);
txt(534, 997, 'UBC9', 12.5);
H.push(`<path d="M556,1008 L551,1000 A8.5,8.5 0 1 0 562,1001 Z" fill="#c054a8" stroke="#8e3a7c" stroke-width="0.8"/>`);
txt(571, 1029, 'SUMO2/3', 12.5);
orange(590, 1038, 8);
H.push(`<ellipse cx="504" cy="1062" rx="95" ry="50" fill="#e9e9e9" stroke="#37598f" stroke-width="1.6" stroke-dasharray="7 5"/>`);
blob(471, 1040, 12, 9); txt(434, 1046, 'MYC', 12.5);
dna(479, 1047, 48);
bent(497, 1034, 12); txt(514, 1038, 'Ubc9', 13.5, '#111', 'start', true);
blob(481, 1078, 12, 9); txt(441, 1083, 'MYC', 12.5);
dna(490, 1076, 46);
bent(507, 1063, 11); txt(521, 1067, 'Sumo2/3', 13.5, '#111', 'start', true);

document.getElementById('diagram').innerHTML = H.join('\n');
</script>
</body>
</html>
